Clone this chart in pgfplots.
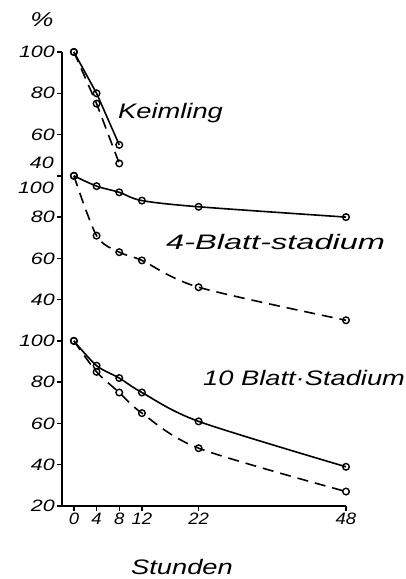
\documentclass[border=0pt]{standalone}
\usepackage{fontspec}
\usepackage{pgfplots}
\pgfplotsset{compat=1.18}
\newfontfamily\hand{Liberation Sans}[FakeStretch=1.3]
\newfontfamily\handx{Liberation Sans}[FakeStretch=1.12]
\newfontfamily\handwide{Liberation Sans}[FakeStretch=1.55]
\newcommand\tickfont{\hand\itshape\fontsize{16.5}{18}\selectfont}
\newcommand\xtickfont{\handx\itshape\fontsize{16.5}{18}\selectfont}
\newcommand\labfont{\hand\itshape\fontsize{21}{24}\selectfont}
\begin{document}
\begin{tikzpicture}
\begin{axis}[
  at={(0,0)}, anchor=south west, scale only axis,
  width=284pt, height=454pt,
  xmin=-2.1, xmax=48, ymin=20, ymax=240,
  axis x line=bottom, axis y line=left,
  axis line style={-, line width=1.8pt},
  xtick={0,4,8,12,22,48},
  ytick={20,40,60,80,100,120,140,160,180,200,220,240},
  yticklabels={20,40,60,80,100,40,60,80,{},60,80,100},
  tick align=outside, major tick length=5pt,
  tick style={black, line width=1.4pt},
  yticklabel style={font=\tickfont, inner sep=2pt},
  xticklabel style={font=\xtickfont, inner sep=2pt},
  /pgf/number format/assume math mode=true,
  clip=false,
  every axis plot/.append style={black, line width=1.6pt},
  mark size=3.3pt,
]
% Keimling (offset +140)
\addplot[mark=o, mark options={solid, fill=white, line width=1.4pt}] coordinates {(0,240) (4,220) (8,195)};
\addplot[dash pattern=on 11pt off 7pt, mark=o, mark options={solid, fill=white, line width=1.4pt}] coordinates {(0,240) (4,215) (8,186)};
% 4-Blatt-stadium (offset +80)
\addplot[smooth, mark=o, mark options={solid, fill=white, line width=1.4pt}] coordinates {(0,180) (4,175) (8,172) (12,168) (22,165) (48,160)};
\addplot[smooth, dash pattern=on 11pt off 7pt, mark=o, mark options={solid, fill=white, line width=1.4pt}] coordinates {(0,180) (4,151) (8,143) (12,139) (22,126) (48,110)};
% 10 Blatt Stadium
\addplot[smooth, mark=o, mark options={solid, fill=white, line width=1.4pt}] coordinates {(0,100) (4,88) (8,82) (12,75) (22,61) (48,39)};
\addplot[smooth, dash pattern=on 11pt off 7pt, mark=o, mark options={solid, fill=white, line width=1.4pt}] coordinates {(0,100) (4,85) (8,75) (12,65) (22,48) (48,27)};
\end{axis}
\node[inner sep=0, anchor=east, font=\tickfont] at (-8pt,343pt) {40};
\node[inner sep=0, anchor=east, font=\tickfont] at (-8pt,318pt) {100};
\node[inner sep=0, font=\hand\itshape\fontsize{20}{22}\selectfont] at (-20pt,486pt) {\%};
\node[inner sep=0, anchor=west, font=\labfont] at (56pt,393pt) {Keimling};
\node[inner sep=0, anchor=west, font=\handwide\itshape\fontsize{21}{24}\selectfont] at (104pt,264pt) {4-Blatt-stadium};
\node[inner sep=0, anchor=west, font=\labfont] at (141pt,128pt) {10 Blatt·Stadium};
\node[inner sep=0, font=\labfont] at (120pt,-61pt) {Stunden};
\pgfresetboundingbox
\path (-62pt,-73pt) rectangle (344pt,506pt);
\end{tikzpicture}
\end{document}
